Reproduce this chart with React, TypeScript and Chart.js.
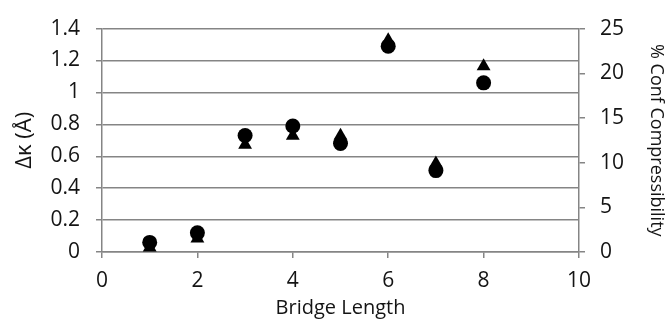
import React, { useEffect, useRef } from "react";
import { Chart, registerables } from "chart.js";

Chart.register(...registerables);

const bridgeLength = [1, 2, 3, 4, 5, 6, 7, 8];
const deltaKappa = [0.06, 0.12, 0.73, 0.79, 0.68, 1.29, 0.51, 1.06];
const confCompressibility = [0.5, 1.5, 12, 13, 13, 23.7, 9.9, 20.8];
const xTicks = [0, 2, 4, 6, 8, 10];
const leftTicks = [0, 0.2, 0.4, 0.6, 0.8, 1, 1.2, 1.4];
const rightTicks = [0, 5, 10, 15, 20, 25];

const FONT = "'Open Sans', sans-serif";
const TEXT = "#141414";
const GRID = "#858585";

export default function App() {
  const ref = useRef<HTMLCanvasElement>(null);
  useEffect(() => {
    document.body.style.margin = "0";
    const ctx = ref.current!;
    const chart = new Chart(ctx, {
      type: "scatter",
      data: {
        datasets: [
          {
            label: "Δκ",
            data: bridgeLength.map((x, i) => ({ x, y: deltaKappa[i] })),
            yAxisID: "y",
            pointStyle: "circle",
            pointRadius: 7.5,
            backgroundColor: "#000",
            borderColor: "#000",
            borderWidth: 0,
          },
          {
            label: "% Conf Compressibility",
            data: bridgeLength.map((x, i) => ({ x, y: confCompressibility[i] })),
            yAxisID: "y2",
            pointStyle: "triangle",
            pointRadius: 8,
            backgroundColor: "#000",
            borderColor: "#000",
            borderWidth: 0,
          },
        ],
      },
      options: {
        animation: false,
        responsive: false,
        layout: { padding: { top: 20, left: 0, right: 0, bottom: 0 } },
        plugins: { legend: { display: false }, tooltip: { enabled: false } },
        scales: {
          x: {
            type: "linear",
            min: 0,
            max: 10,
            afterBuildTicks: (s: any) => {
              s.ticks = xTicks.map((v) => ({ value: v }));
            },
            afterFit: (s: any) => {
              s.height = 68;
            },
            grid: {
              drawOnChartArea: false,
              drawTicks: true,
              tickLength: 6,
              color: GRID,
              lineWidth: 1.5,
            },
            border: { color: GRID, width: 1.5 },
            ticks: { color: TEXT, font: { family: FONT, size: 21 }, padding: 10 },
            title: {
              display: true,
              text: "Bridge Length",
              color: TEXT,
              font: { family: FONT, size: 20, lineHeight: 1.0 },
              padding: { top: 0, bottom: 2 },
            },
          },
          y: {
            type: "linear",
            position: "left",
            min: 0,
            max: 1.4,
            afterBuildTicks: (s: any) => {
              s.ticks = leftTicks.map((v) => ({ value: v }));
            },
            afterFit: (s: any) => {
              s.width = 102;
            },
            grid: {
              drawOnChartArea: true,
              drawTicks: true,
              tickLength: 6,
              color: GRID,
              lineWidth: 1.5,
            },
            border: { color: GRID, width: 1.5 },
            ticks: {
              color: TEXT,
              font: { family: FONT, size: 21 },
              padding: 16,
              callback: (v: any) => String(Math.round(Number(v) * 10) / 10),
            },
            title: {
              display: true,
              text: "Δκ (Å)",
              color: TEXT,
              font: { family: FONT, size: 22 },
              padding: { top: 12, bottom: 0 },
            },
          },
          y2: {
            type: "linear",
            position: "right",
            min: 0,
            max: 25,
            afterBuildTicks: (s: any) => {
              s.ticks = rightTicks.map((v) => ({ value: v }));
            },
            afterFit: (s: any) => {
              s.width = 89;
            },
            grid: {
              drawOnChartArea: false,
              drawTicks: true,
              tickLength: 6,
              color: GRID,
              lineWidth: 1.5,
            },
            border: { color: GRID, width: 1.5 },
            ticks: { color: TEXT, font: { family: FONT, size: 21 }, padding: 15 },
            title: {
              display: true,
              text: "% Conf Compressibility",
              color: TEXT,
              font: { family: FONT, size: 18 },
              padding: { top: 1, bottom: 0 },
            },
          },
        },
      },
    } as any);
    return () => chart.destroy();
  }, []);
  return <canvas ref={ref} width={668} height={320} style={{ display: "block" }} />;
}
